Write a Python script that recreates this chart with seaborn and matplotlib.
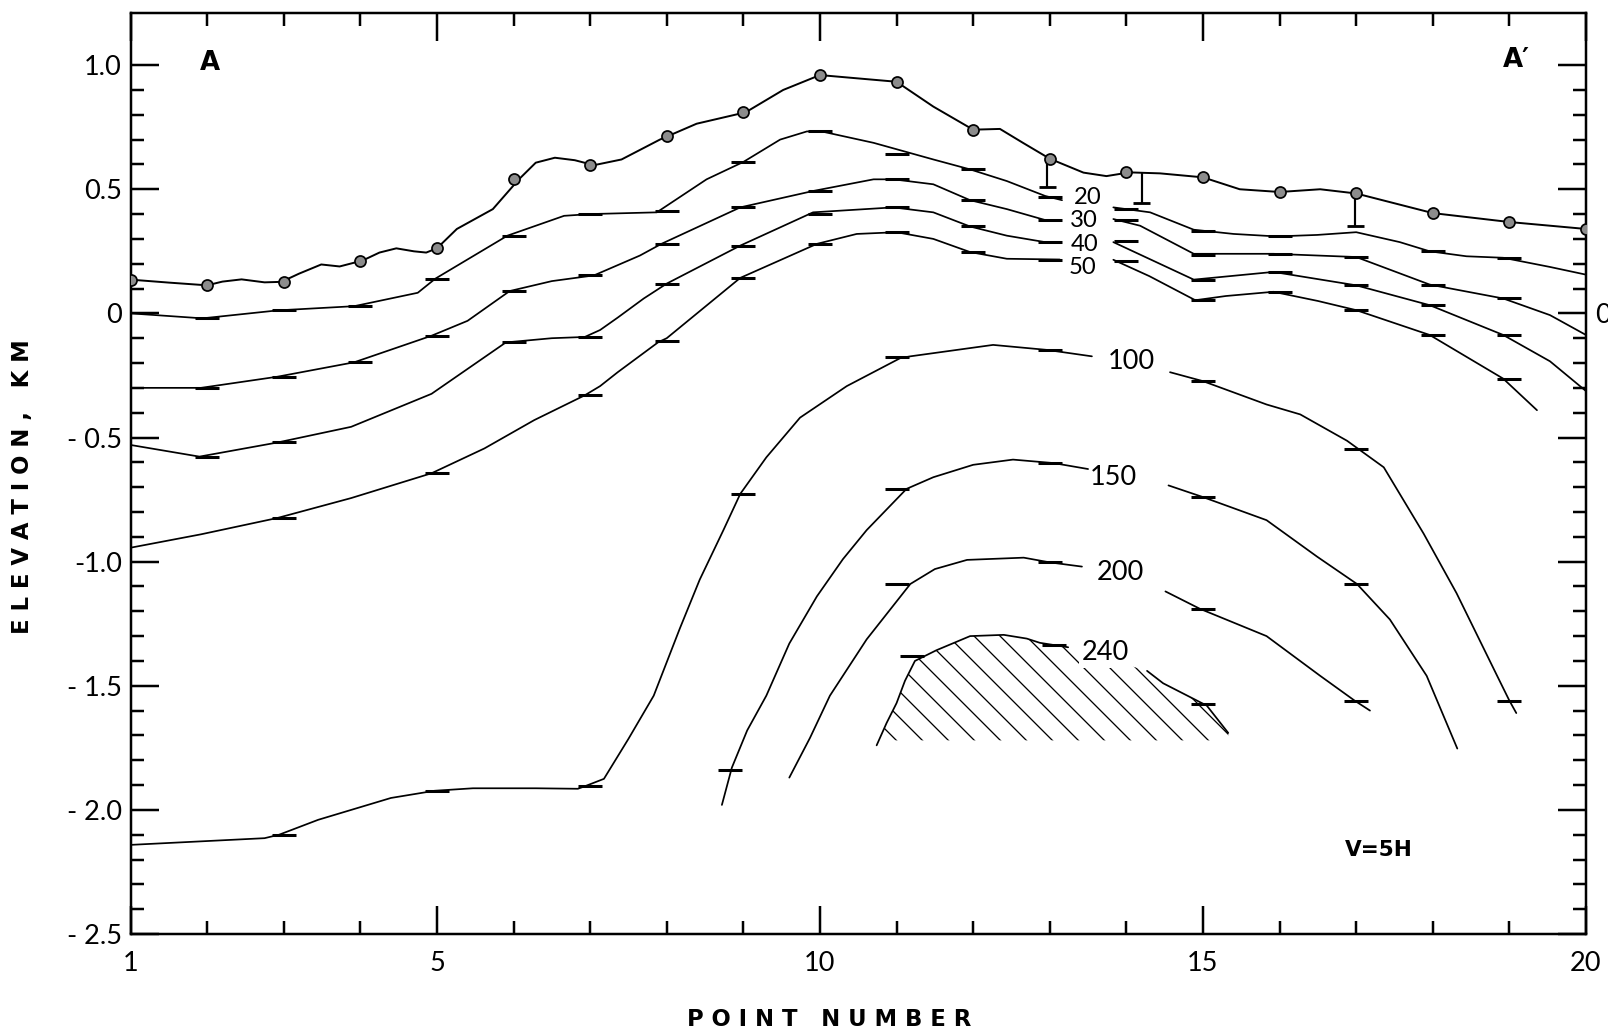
import numpy as np
import matplotlib
matplotlib.use("Agg")
import matplotlib.pyplot as plt
import seaborn as sns

nan = np.nan

# ---------------- data ----------------
POINT_NUMBERS = list(range(1, 21))
SURFACE_DOTS_Y = [0.136, 0.113, 0.127, 0.213, 0.262, 0.54, 0.597, 0.713, 0.81, 0.96,
                  0.933, 0.74, 0.623, 0.568, 0.548, 0.489, 0.483, 0.404, 0.368, 0.34]

SURFACE_X = [1.0, 1.5, 2.0, 2.2, 2.45, 2.75, 2.97, 3.2, 3.49, 3.73,
             4.03, 4.25, 4.47, 4.7, 4.86, 5.0, 5.26, 5.73, 6.07, 6.29,
             6.54, 6.8, 7.05, 7.41, 7.91, 8.39, 9.03, 9.52, 10.0, 10.48,
             11.0, 11.48, 12.0, 12.35, 12.65, 13.0, 13.44, 13.74, 14.04, 14.44,
             15.0, 15.48, 16.0, 16.53, 17.0, 18.0, 19.0, 20.0]
SURFACE_Y = [0.136, 0.124, 0.113, 0.128, 0.137, 0.125, 0.127, 0.16, 0.197, 0.189,
             0.213, 0.245, 0.262, 0.25, 0.245, 0.262, 0.34, 0.42, 0.54, 0.607,
             0.627, 0.617, 0.597, 0.62, 0.70, 0.764, 0.81, 0.90, 0.96, 0.947,
             0.933, 0.833, 0.74, 0.743, 0.687, 0.623, 0.567, 0.553, 0.568, 0.564,
             0.548, 0.50, 0.489, 0.50, 0.483, 0.404, 0.368, 0.34]

C20_X = [1.0, 1.94, 2.92, 3.92, 4.75, 4.98, 5.92, 6.66, 7.0, 7.87, 8.52, 9.0, 9.48, 9.83,
         10.02, 10.7, 11.48, 11.96, 12.44, 12.94, 13.16, nan,
         13.83, 14.31, 14.88, 15.4, 15.96, 16.49, 17.0, 17.57, 17.96, 18.44, 18.92, 19.53, 20.0]
C20_Y = [0.0, -0.02, 0.012, 0.029, 0.083, 0.14, 0.313, 0.393, 0.40, 0.407, 0.54, 0.61, 0.70, 0.733,
         0.733, 0.687, 0.62, 0.58, 0.533, 0.473, 0.456, nan,
         0.427, 0.407, 0.337, 0.32, 0.31, 0.316, 0.327, 0.287, 0.25, 0.23, 0.224, 0.187, 0.156]
C20_TICK_X = [2, 3, 4, 5, 6, 7, 8, 9, 10, 11, 12, 13, 14, 15, 16, 18, 19]
C20_TICK_Y = [-0.02, 0.012, 0.03, 0.14, 0.313, 0.40, 0.413, 0.61, 0.733, 0.644, 0.58, 0.467,
              0.42, 0.33, 0.31, 0.25, 0.224]

C30_X = [1.0, 1.92, 2.92, 3.92, 4.93, 5.4, 5.95, 6.5, 7.05, 7.65, 7.93, 8.96, 9.91, 10.7,
         10.96, 11.48, 11.96, 12.44, 12.94, 13.11, nan,
         13.83, 14.18, 14.88, 15.92, 17.0, 17.96, 18.92, 19.53, 20.0]
C30_Y = [-0.30, -0.30, -0.255, -0.197, -0.09, -0.03, 0.09, 0.13, 0.153, 0.233, 0.28, 0.427, 0.493, 0.54,
         0.54, 0.52, 0.456, 0.42, 0.376, 0.373, nan,
         0.38, 0.353, 0.24, 0.24, 0.227, 0.116, 0.06, -0.007, -0.087]
C30_TICK_X = [2, 3, 4, 5, 6, 7, 8, 9, 10, 11, 12, 13, 14, 15, 16, 17, 18, 19]
C30_TICK_Y = [-0.30, -0.255, -0.197, -0.09, 0.09, 0.153, 0.28, 0.427, 0.493, 0.54, 0.456, 0.376,
              0.377, 0.236, 0.24, 0.227, 0.116, 0.06]

C40_X = [1.0, 1.9, 2.92, 3.88, 4.93, 5.9, 6.5, 6.93, 7.13, 7.36, 7.7, 8.0, 8.96, 9.91,
         10.96, 11.48, 11.96, 12.44, 12.94, 13.13, nan,
         13.83, 14.88, 15.92, 17.0, 17.96, 18.92, 19.53, 20.0]
C40_Y = [-0.53, -0.577, -0.52, -0.457, -0.324, -0.117, -0.10, -0.095, -0.067, -0.017, 0.06, 0.12, 0.273, 0.407,
         0.427, 0.407, 0.35, 0.313, 0.287, 0.283, nan,
         0.287, 0.136, 0.167, 0.113, 0.033, -0.087, -0.193, -0.313]
C40_TICK_X = [2, 3, 6, 7, 8, 9, 10, 11, 12, 13, 14, 15, 16, 17, 18, 19]
C40_TICK_Y = [-0.577, -0.52, -0.117, -0.095, 0.12, 0.273, 0.40, 0.427, 0.35, 0.287, 0.29, 0.136,
              0.167, 0.113, 0.033, -0.087]

C50_X = [1.0, 1.92, 2.92, 3.88, 4.93, 5.62, 6.27, 6.93, 7.13, 7.36, 7.89, 8.0, 8.96, 9.96,
         10.48, 11.0, 11.48, 11.96, 12.44, 13.13, nan,
         13.83, 14.3, 14.9, 15.3, 15.92, 16.5, 17.0, 17.96, 18.92, 19.36]
C50_Y = [-0.944, -0.89, -0.824, -0.744, -0.644, -0.544, -0.43, -0.33, -0.293, -0.237, -0.116, -0.10, 0.143, 0.28,
         0.32, 0.327, 0.30, 0.247, 0.22, 0.217, nan,
         0.216, 0.15, 0.053, 0.07, 0.087, 0.05, 0.013, -0.087, -0.263, -0.39]
C50_TICK_X = [3, 5, 7, 8, 9, 10, 11, 12, 13, 14, 15, 16, 17, 18, 19]
C50_TICK_Y = [-0.826, -0.644, -0.33, -0.11, 0.143, 0.28, 0.327, 0.247, 0.217, 0.213, 0.053, 0.087,
              0.013, -0.087, -0.264]

C100_X = [1.0, 2.75, 2.94, 3.45, 4.40, 4.97, 5.47, 6.29, 6.84, 6.93,
          7.18, 7.5, 7.83, 8.17, 8.43, 8.74, 8.96, 9.3, 9.74, 10.35,
          11.05, 11.18, 12.26, 12.96, 13.55, nan,
          14.57, 15.0, 15.83, 16.27, 16.88, 17.36, 17.88, 18.31, 18.84, 19.0, 19.09]
C100_Y = [-2.141, -2.114, -2.10, -2.04, -1.952, -1.923, -1.913, -1.913, -1.915, -1.905,
          -1.875, -1.714, -1.54, -1.27, -1.073, -0.873, -0.727, -0.58, -0.42, -0.293,
          -0.18, -0.173, -0.127, -0.147, -0.173, nan,
          -0.237, -0.273, -0.367, -0.407, -0.513, -0.62, -0.887, -1.127, -1.46, -1.56, -1.61]
C100_TICK_X = [3, 5, 7, 9, 11, 13, 15, 17, 19]
C100_TICK_Y = [-2.10, -1.923, -1.905, -0.727, -0.175, -0.147, -0.273, -0.547, -1.56]

C150_X = [8.72, 8.85, 9.05, 9.3, 9.6, 9.96, 10.3, 10.61, 11.13, 11.48, 12.0, 12.52, 13.05, 13.5, nan,
          14.55, 15.0, 15.83, 16.49, 17.01, 17.44, 17.92, 18.32]
C150_Y = [-1.98, -1.83, -1.68, -1.54, -1.33, -1.14, -0.99, -0.873, -0.707, -0.66, -0.61, -0.589, -0.603, -0.627, nan,
          -0.693, -0.74, -0.833, -0.98, -1.09, -1.233, -1.46, -1.753]
C150_TICK_X = [8.83, 11, 13, 15, 17]
C150_TICK_Y = [-1.84, -0.707, -0.603, -0.74, -1.09]

C200_X = [9.6, 9.87, 10.13, 10.61, 11.18, 11.5, 11.92, 12.66, 13.0, 13.42, nan,
          14.51, 14.96, 15.83, 16.53, 16.98, 17.18]
C200_Y = [-1.87, -1.71, -1.54, -1.313, -1.09, -1.03, -0.993, -0.984, -1.003, -1.02, nan,
          -1.12, -1.19, -1.30, -1.46, -1.56, -1.60]
C200_TICK_X = [11, 13, 15, 17]
C200_TICK_Y = [-1.09, -1.003, -1.19, -1.56]

C240_X = [10.74, 10.87, 11.0, 11.11, 11.24, 11.52, 11.96, 12.4, 12.7, 12.87, 13.24, nan,
          14.27, 14.48, 15.05, 15.33]
C240_Y = [-1.74, -1.65, -1.57, -1.48, -1.40, -1.357, -1.30, -1.295, -1.31, -1.327, -1.345, nan,
          -1.44, -1.49, -1.58, -1.69]
C240_TICK_X = [11.2, 13.05, 15.0]
C240_TICK_Y = [-1.38, -1.335, -1.575]
HATCH_FLOOR = -1.72

BAR_X = [12.97, 14.2, 16.99]
BAR_TOP = [0.623, 0.565, 0.483]
BAR_BOTTOM = [0.51, 0.445, 0.35]

LABEL_TEXT = ['20', '30', '40', '50', '100', '150', '200', '240']
LABEL_X = [13.49, 13.44, 13.46, 13.43, 14.07, 13.83, 13.92, 13.73]
LABEL_Y = [0.468, 0.373, 0.278, 0.183, -0.193, -0.66, -1.043, -1.365]
LABEL_SIZE = [11, 11, 11, 11, 12.5, 12.5, 12.5, 12.5]

X_LABELED = [1, 5, 10, 15, 20]
X_MINOR = [2, 3, 4, 6, 7, 8, 9, 11, 12, 13, 14, 16, 17, 18, 19]
Y_MAJOR = [-2.5, -2.0, -1.5, -1.0, -0.5, 0.0, 0.5, 1.0]
Y_LEFT_LABELS = ['- 2.5', '- 2.0', '- 1.5', '-1.0', '- 0.5', '0', '0.5', '1.0']
Y_RIGHT_LABELS = ['', '', '', '', '', '0', '', '']
Y_MINOR = [-2.4, -2.3, -2.2, -2.1, -1.9, -1.8, -1.7, -1.6, -1.4, -1.3, -1.2, -1.1,
           -0.9, -0.8, -0.7, -0.6, -0.4, -0.3, -0.2, -0.1, 0.1, 0.2, 0.3, 0.4,
           0.6, 0.7, 0.8, 0.9]

# ---------------- style ----------------
sns.set_theme(style="white")
plt.rcParams['font.family'] = ['Lato', 'DejaVu Sans']
plt.rcParams['hatch.linewidth'] = 0.6
plt.rcParams['hatch.color'] = 'black'
plt.rcParams['axes.edgecolor'] = 'black'
plt.rcParams['axes.linewidth'] = 1.15

DPI = 156
W, H = 1608, 1034
fig = plt.figure(figsize=(W / DPI, H / DPI), dpi=DPI)
fig.patch.set_facecolor('white')
ax = fig.add_axes([130.5 / W, 1 - 934 / H, (1586 - 130.5) / W, (934 - 13) / H])
ax.set_xlim(1, 20)
ax.set_ylim(-2.5, 1.21)


def draw_line(xs, ys, lw=0.8):
    xs = np.asarray(xs, float)
    ys = np.asarray(ys, float)
    cuts = np.where(np.isnan(xs))[0]
    for seg in np.split(np.arange(len(xs)), cuts):
        seg = seg[~np.isnan(xs[seg])]
        if len(seg) > 1:
            sns.lineplot(x=xs[seg], y=ys[seg], sort=False, estimator=None,
                         color='black', lw=lw, ax=ax, legend=False)


def draw_ticks(tx, ty):
    ax.plot(tx, ty, ls='none', marker='_', ms=11.5, mew=1.4, color='black', zorder=4)


# hatched high-value zone under the 240 contour
hx = np.array([v for v in C240_X if not np.isnan(v)])
hy = np.array([v for v in C240_Y if not np.isnan(v)])
ax.fill_between(hx, hy, HATCH_FLOOR, where=hy >= HATCH_FLOOR - 0.05, facecolor='none',
                edgecolor='black', hatch='\\\\', lw=0, zorder=1)

draw_line(SURFACE_X, SURFACE_Y, lw=0.9)
for cx, cy, tx, ty in [(C20_X, C20_Y, C20_TICK_X, C20_TICK_Y),
                       (C30_X, C30_Y, C30_TICK_X, C30_TICK_Y),
                       (C40_X, C40_Y, C40_TICK_X, C40_TICK_Y),
                       (C50_X, C50_Y, C50_TICK_X, C50_TICK_Y),
                       (C100_X, C100_Y, C100_TICK_X, C100_TICK_Y),
                       (C150_X, C150_Y, C150_TICK_X, C150_TICK_Y),
                       (C200_X, C200_Y, C200_TICK_X, C200_TICK_Y),
                       (C240_X, C240_Y, C240_TICK_X, C240_TICK_Y)]:
    draw_line(cx, cy, lw=0.8)
    draw_ticks(tx, ty)

# error bars below surface points
bx = np.array(BAR_X)
ax.vlines(bx, BAR_BOTTOM, BAR_TOP, color='black', lw=1.0, zorder=3)
ax.hlines(BAR_BOTTOM, bx - 0.11, bx + 0.11, color='black', lw=1.3, zorder=3)

# surface points
sns.scatterplot(x=POINT_NUMBERS, y=SURFACE_DOTS_Y, s=26, color='#8c8c8c',
                edgecolor='black', linewidth=0.8, zorder=5, ax=ax, legend=False)

# contour labels
for t, lx, ly, fs in zip(LABEL_TEXT, LABEL_X, LABEL_Y, LABEL_SIZE):
    kw = {}
    if t == '240':
        kw['bbox'] = dict(fc='white', ec='none', pad=1.5)
    ax.text(lx, ly, t, ha='center', va='center', fontsize=fs, color='black',
            zorder=6, **kw)

BOLD = ['DejaVu Sans']
ax.text(2.04, 1.01, 'A', ha='center', va='center', fontsize=12, fontweight='bold',
        family=BOLD, color='black')
ax.text(19.09, 1.02, 'A\u2032', ha='center', va='center', fontsize=12, fontweight='bold',
        family=BOLD, color='black')
ax.text(17.3, -2.16, 'V=5H', ha='center', va='center', fontsize=10, fontweight='bold',
        family=BOLD, color='black')

# axes ticks
ax.set_xticks(X_LABELED)
ax.set_xticklabels([str(v) for v in X_LABELED])
ax.set_xticks(X_MINOR, minor=True)
ax.set_yticks(Y_MAJOR)
ax.set_yticklabels(Y_LEFT_LABELS)
ax.set_yticks(Y_MINOR, minor=True)
ax.tick_params(axis='both', which='both', direction='in', top=True, bottom=True,
               left=True, right=False, colors='black', width=1.15)
ax.tick_params(axis='both', which='major', length=13, labelsize=12.5)
ax.tick_params(axis='both', which='minor', length=6)
ax.tick_params(axis='x', which='major', pad=8)
ax.tick_params(axis='y', which='major', pad=4)
for s in ax.spines.values():
    s.set_color('black')
    s.set_linewidth(1.15)

ax2 = ax.twinx()
ax2.set_ylim(ax.get_ylim())
ax2.set_yticks(Y_MAJOR)
ax2.set_yticklabels(Y_RIGHT_LABELS)
ax2.set_yticks(Y_MINOR, minor=True)
ax2.tick_params(axis='y', which='both', direction='in', colors='black', width=1.15)
ax2.tick_params(axis='y', which='major', length=13, labelsize=12.5, pad=4)
ax2.tick_params(axis='y', which='minor', length=6)
ax2.grid(False)
for s in ax2.spines.values():
    s.set_visible(False)

fig.text(829 / W, 1 - 1020 / H, 'P O I N T   N U M B E R', ha='center', va='center',
         fontsize=10.5, fontweight='bold', family=BOLD, color='black')
fig.text(22.5 / W, 1 - 487 / H, 'E L E V A T I O N ,   K M', ha='center', va='center',
         rotation=90, fontsize=10.5, fontweight='bold', family=BOLD, color='black')

fig.savefig('out.png', dpi=DPI, facecolor='white')
